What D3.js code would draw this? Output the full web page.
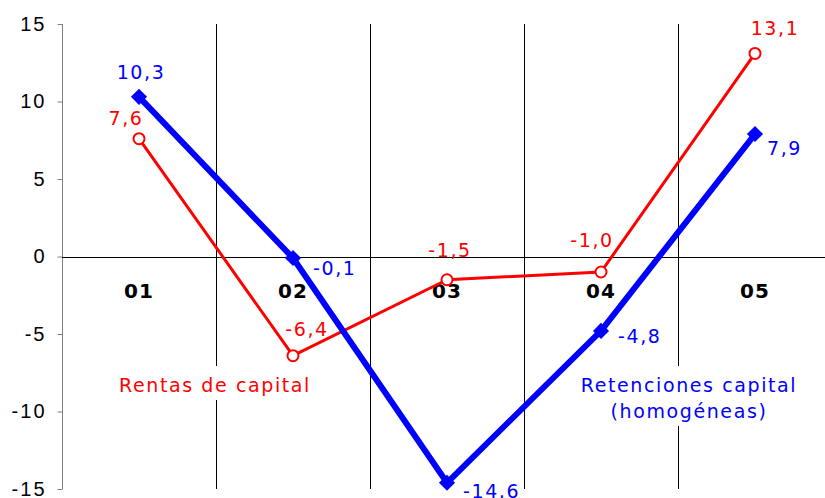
<!DOCTYPE html>
<html lang="es">
<head>
    <meta charset="UTF-8">
    <title>Rentas y retenciones de capital</title>
    <script src="https://d3js.org/d3.v7.min.js"></script>
    <style>
        body { margin: 0; background: #fff; }
        svg { display: block; font-family: "DejaVu Sans", Verdana, sans-serif; }
        .tick text { font-size: 20px; fill: #000; letter-spacing: 2px; }
        .cat { font-size: 20px; font-weight: bold; text-anchor: middle; letter-spacing: 1px; }
        .lbl { font-size: 19px; letter-spacing: 1.6px; }
    </style>
</head>
<body>
<svg width="825" height="498"></svg>
<script>
    // data
    const categories = ["01", "02", "03", "04", "05"];
    const rentas = [7.6, -6.4, -1.5, -1.0, 13.1];
    const retenciones = [10.3, -0.1, -14.6, -4.8, 7.9];
    const yTicks = [-15, -10, -5, 0, 5, 10, 15];

    // label placement (offsets from the point, in px)
    const rentasDx = [-13, 14, 3, -9, 20], rentasDy = [-14, -20, -23, -25, -18];
    const retDx = [2, 20, 16, 17, 12], retDy = [-18, 17, 15, 12, 21];
    const retAnchor = ["middle", "start", "start", "start", "start"];

    const W = 825, H = 498;
    const svg = d3.select("svg");

    const x = d3.scaleBand().domain(categories).range([62, 832]);
    const y = d3.scaleLinear().domain([-15, 15]).range([489, 24]);
    const cx = c => x(c) + x.bandwidth() / 2;
    const fmt = v => v.toFixed(1).replace(".", ",");

    // vertical gridlines between categories
    svg.append("g").selectAll("line")
        .data(categories.slice(0, -1))
        .join("line")
        .attr("x1", d => Math.round(x(d) + x.bandwidth()) + 0.5)
        .attr("x2", d => Math.round(x(d) + x.bandwidth()) + 0.5)
        .attr("y1", y(15)).attr("y2", y(-15))
        .attr("stroke", "#000").attr("stroke-width", 1);

    // y axis
    const yAxis = svg.append("g")
        .attr("transform", "translate(62.5,0)")
        .call(d3.axisLeft(y).tickValues(yTicks).tickSize(5).tickPadding(11).tickFormat(d => String(d)));
    yAxis.selectAll("path, line").attr("stroke", "#808080");
    yAxis.select(".domain").attr("d", `M0,${y(15)}V${y(-15)}`);

    // zero line
    svg.append("line")
        .attr("x1", 62).attr("x2", W)
        .attr("y1", Math.round(y(0)) + 0.5).attr("y2", Math.round(y(0)) + 0.5)
        .attr("stroke", "#000");

    // category labels
    svg.append("g").selectAll("text")
        .data(categories)
        .join("text")
        .attr("class", "cat")
        .attr("x", d => cx(d))
        .attr("y", y(0) + 41)
        .text(d => d);

    const line = d3.line().x((d, i) => cx(categories[i])).y(d => y(d));

    // Rentas de capital (red)
    svg.append("path").datum(rentas)
        .attr("d", line).attr("fill", "none")
        .attr("stroke", "#ff0000").attr("stroke-width", 3).attr("stroke-linejoin", "round");

    // Retenciones (blue)
    svg.append("path").datum(retenciones)
        .attr("d", line).attr("fill", "none")
        .attr("stroke", "#0000ff").attr("stroke-width", 6).attr("stroke-linejoin", "round");

    svg.append("g").selectAll("circle")
        .data(rentas)
        .join("circle")
        .attr("cx", (d, i) => cx(categories[i]))
        .attr("cy", d => y(d))
        .attr("r", 5.5)
        .attr("fill", "#fff").attr("stroke", "#ff0000").attr("stroke-width", 2);

    svg.append("g").selectAll("path")
        .data(retenciones)
        .join("path")
        .attr("d", d3.symbol(d3.symbolSquare, 130))
        .attr("transform", (d, i) => `translate(${cx(categories[i])},${y(d)}) rotate(45)`)
        .attr("fill", "#0000ff");

    // data labels
    svg.append("g").selectAll("text")
        .data(rentas)
        .join("text")
        .attr("class", "lbl")
        .attr("fill", "#ff0000")
        .attr("text-anchor", "middle")
        .attr("x", (d, i) => cx(categories[i]) + rentasDx[i])
        .attr("y", (d, i) => y(d) + rentasDy[i])
        .text(fmt);

    svg.append("g").selectAll("text")
        .data(retenciones)
        .join("text")
        .attr("class", "lbl")
        .attr("fill", "#0000ff")
        .attr("text-anchor", (d, i) => retAnchor[i])
        .attr("x", (d, i) => cx(categories[i]) + retDx[i])
        .attr("y", (d, i) => y(d) + retDy[i])
        .text(fmt);

    // series name boxes
    function nameBox(lines, px, py, color) {
        const g = svg.append("g");
        const rect = g.append("rect").attr("fill", "#fff");
        const t = g.append("text").attr("class", "lbl").attr("fill", color).attr("text-anchor", "middle");
        lines.forEach((s, i) => t.append("tspan").attr("x", px).attr("y", py + i * 26).text(s));
        const b = t.node().getBBox();
        rect.attr("x", b.x - 6).attr("y", b.y - 8).attr("width", b.width + 12).attr("height", b.height + 12);
    }
    nameBox(["Rentas de capital"], cx("02") - 78, 392, "#ff0000");
    nameBox(["Retenciones capital", "(homogéneas)"], cx("04") + 88, 392, "#0000ff");
</script>
</body>
</html>
